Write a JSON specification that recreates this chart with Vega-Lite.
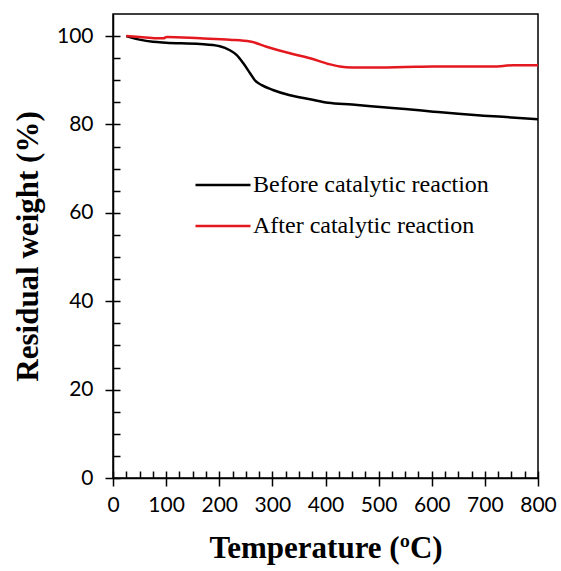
{
  "$schema": "https://vega.github.io/schema/vega-lite/v6.json",
  "width": 425,
  "height": 464,
  "autosize": {"type": "none"},
  "padding": {"left": 113, "top": 14, "right": 23, "bottom": 93},
  "background": "white",
  "config": {
    "view": {"stroke": "black", "strokeWidth": 1.5},
    "axis": {
      "domainColor": "black", "domainWidth": 1.5, "tickColor": "black", "tickWidth": 1.5,
      "grid": false, "labelFont": "Lato", "labelFontSize": 21, "labelColor": "black",
      "labelLimit": 0, "labelOverlap": false, "labelFlush": false,
      "titleFont": "Liberation Serif", "titleFontSize": 31, "titleFontWeight": "bold", "titleColor": "black"
    }
  },
  "data": {"values": [
    {"series": "Before catalytic reaction", "T": 25, "w": 100},
    {"series": "Before catalytic reaction", "T": 50, "w": 99.2},
    {"series": "Before catalytic reaction", "T": 75, "w": 98.7},
    {"series": "Before catalytic reaction", "T": 100, "w": 98.5},
    {"series": "Before catalytic reaction", "T": 164, "w": 98.2},
    {"series": "Before catalytic reaction", "T": 201, "w": 97.7},
    {"series": "Before catalytic reaction", "T": 220, "w": 96.8},
    {"series": "Before catalytic reaction", "T": 233, "w": 95.7},
    {"series": "Before catalytic reaction", "T": 245, "w": 93.9},
    {"series": "Before catalytic reaction", "T": 258, "w": 91.6},
    {"series": "Before catalytic reaction", "T": 267, "w": 90.0},
    {"series": "Before catalytic reaction", "T": 280, "w": 88.9},
    {"series": "Before catalytic reaction", "T": 301, "w": 87.8},
    {"series": "Before catalytic reaction", "T": 333, "w": 86.6},
    {"series": "Before catalytic reaction", "T": 371, "w": 85.7},
    {"series": "Before catalytic reaction", "T": 405, "w": 84.9},
    {"series": "Before catalytic reaction", "T": 450, "w": 84.5},
    {"series": "Before catalytic reaction", "T": 509, "w": 83.9},
    {"series": "Before catalytic reaction", "T": 550, "w": 83.5},
    {"series": "Before catalytic reaction", "T": 603, "w": 82.9},
    {"series": "Before catalytic reaction", "T": 650, "w": 82.4},
    {"series": "Before catalytic reaction", "T": 697, "w": 82.0},
    {"series": "Before catalytic reaction", "T": 750, "w": 81.6},
    {"series": "Before catalytic reaction", "T": 800, "w": 81.2},
    {"series": "After catalytic reaction", "T": 25, "w": 100},
    {"series": "After catalytic reaction", "T": 50, "w": 99.8},
    {"series": "After catalytic reaction", "T": 82, "w": 99.5},
    {"series": "After catalytic reaction", "T": 95, "w": 99.5},
    {"series": "After catalytic reaction", "T": 101, "w": 99.8},
    {"series": "After catalytic reaction", "T": 164, "w": 99.5},
    {"series": "After catalytic reaction", "T": 220, "w": 99.2},
    {"series": "After catalytic reaction", "T": 258, "w": 98.8},
    {"series": "After catalytic reaction", "T": 289, "w": 97.6},
    {"series": "After catalytic reaction", "T": 333, "w": 96.1},
    {"series": "After catalytic reaction", "T": 371, "w": 95.0},
    {"series": "After catalytic reaction", "T": 405, "w": 93.7},
    {"series": "After catalytic reaction", "T": 427, "w": 93.1},
    {"series": "After catalytic reaction", "T": 450, "w": 92.9},
    {"series": "After catalytic reaction", "T": 478, "w": 92.9},
    {"series": "After catalytic reaction", "T": 550, "w": 93.0},
    {"series": "After catalytic reaction", "T": 603, "w": 93.1},
    {"series": "After catalytic reaction", "T": 650, "w": 93.1},
    {"series": "After catalytic reaction", "T": 716, "w": 93.1},
    {"series": "After catalytic reaction", "T": 753, "w": 93.4},
    {"series": "After catalytic reaction", "T": 800, "w": 93.4}
  ]},
  "layer": [
    {
      "mark": {"type": "line", "strokeOpacity": 0},
      "encoding": {
        "x": {"field": "T", "type": "quantitative", "scale": {"domain": [0, 800], "nice": false},
          "axis": {"orient": "bottom", "values": [0,25,50,75,100,125,150,175,200,225,250,275,300,325,350,375,400,425,450,475,500,525,550,575,600,625,650,675,700,725,750,775,800],
            "tickSize": -7, "labels": false, "domain": false, "title": null}},
        "y": {"field": "w", "type": "quantitative", "scale": {"domain": [0, 105], "nice": false},
          "axis": {"orient": "left", "values": [0,5,10,15,20,25,30,35,40,45,50,55,60,65,70,75,80,85,90,95,100],
            "tickSize": -7, "labels": false, "domain": false, "title": null}},
        "detail": {"field": "series"}
      }
    },
    {
      "mark": {"type": "line", "strokeWidth": 2.5, "interpolate": "monotone"},
      "encoding": {
        "x": {"field": "T", "type": "quantitative", "scale": {"domain": [0, 800], "nice": false},
          "axis": {"orient": "bottom", "values": [0,100,200,300,400,500,600,700,800], "tickSize": 8, "labelPadding": 8,
            "title": "Temperature (ºC)", "titlePadding": 18}},
        "y": {"field": "w", "type": "quantitative", "scale": {"domain": [0, 105], "nice": false},
          "axis": {"orient": "left", "values": [0,20,40,60,80,100], "tickSize": 8, "labelPadding": 12,
            "title": "Residual weight (%)", "titlePadding": 12}},
        "color": {"field": "series", "type": "nominal",
          "scale": {"domain": ["Before catalytic reaction", "After catalytic reaction"], "range": ["black", "#e3191f"]},
          "legend": {"title": null, "orient": "none", "legendX": 81, "legendY": 142,
            "symbolType": "stroke", "symbolSize": 3025, "symbolStrokeWidth": 2.5,
            "labelFont": "Liberation Serif", "labelFontSize": 24, "labelColor": "black",
            "labelLimit": 0, "labelOffset": 1, "rowPadding": -16}}
      }
    }
  ],
  "resolve": {"axis": {"x": "independent", "y": "independent"}}
}
